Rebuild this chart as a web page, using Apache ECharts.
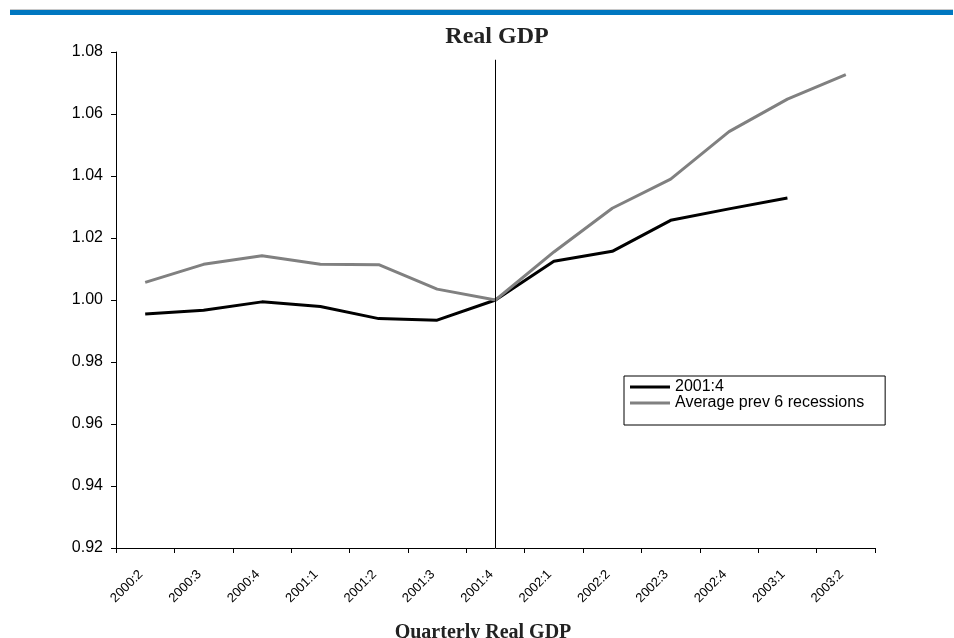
<!DOCTYPE html>
<html>
<head>
<meta charset="utf-8">
<script src="https://cdn.jsdelivr.net/npm/echarts@6/dist/echarts.min.js"></script>
<style>
html,body{margin:0;padding:0;background:#fff;}
#chart{width:954px;height:638px;}
</style>
</head>
<body>
<div id="chart"></div>
<script>
const categories = ['2000:2','2000:3','2000:4','2001:1','2001:2','2001:3','2001:4','2002:1','2002:2','2002:3','2002:4','2003:1','2003:2'];
const recession2001 = [0.9955,0.9967,0.9994,0.9979,0.9940,0.9935,1.0000,1.0125,1.0157,1.0257,1.0294,1.0329,null];
const avgPrev6 = [1.0057,1.0115,1.0143,1.0115,1.0114,1.0035,1.0000,1.0155,1.0296,1.0390,1.0543,1.0648,1.0727];
const seriesNames = ['2001:4','Average prev 6 recessions'];
const markerCategory = '2001:4';
const markerTop = 1.0775;
const yMin = 0.92, yMax = 1.08, yStep = 0.02;

const chart = echarts.init(document.getElementById('chart'));
const sans = 'Liberation Sans, Arial, sans-serif';
const serif = 'Liberation Serif, Times New Roman, serif';
chart.setOption({
  animation: false,
  backgroundColor: '#fff',
  grid: {left: 116, right: 79, top: 52, bottom: 90, containLabel: false, outerBoundsMode: 'none'},
  graphic: [
    {type: 'rect', shape: {x: 10, y: 9, width: 943, height: 1}, style: {fill: '#c8c8c8'}},
    {type: 'rect', shape: {x: 10, y: 10, width: 943, height: 5}, style: {fill: '#0077c0'}},
    {type: 'text', x: 497, y: 37, style: {text: 'Real GDP', font: 'bold 24px ' + serif, fill: '#222', textAlign: 'center', textVerticalAlign: 'middle'}},
    {type: 'text', x: 483, y: 633, style: {text: 'Quarterly Real GDP', font: 'bold 20px ' + serif, fill: '#222', textAlign: 'center', textVerticalAlign: 'middle'}}
  ],
  legend: {
    orient: 'vertical',
    left: 624, top: 376,
    padding: [3, 21, 14, 6],
    itemGap: 0,
    itemWidth: 40, itemHeight: 3,
    icon: 'rect',
    borderColor: '#000', borderWidth: 1,
    textStyle: {fontFamily: sans, fontSize: 16, color: '#000', lineHeight: 16},
    data: seriesNames
  },
  xAxis: {
    type: 'category',
    data: categories,
    boundaryGap: true,
    axisLine: {lineStyle: {color: '#000', width: 1}},
    axisTick: {show: true, length: 5, lineStyle: {color: '#000'}},
    axisLabel: {rotate: 45, interval: 0, fontFamily: sans, fontSize: 13, color: '#000', margin: 20, padding: [0, 6, 0, 0]},
    splitLine: {show: false}
  },
  yAxis: {
    type: 'value',
    min: yMin, max: yMax, interval: yStep,
    axisLine: {show: true, lineStyle: {color: '#000', width: 1}},
    axisTick: {show: true, length: 5, lineStyle: {color: '#000'}},
    axisLabel: {fontFamily: sans, fontSize: 16, color: '#000', margin: 13, formatter: v => v.toFixed(2)},
    splitLine: {show: false}
  },
  series: [
    {
      name: seriesNames[0], type: 'line', data: recession2001,
      symbol: 'none', lineStyle: {color: '#000', width: 3}, itemStyle: {color: '#000'},
      markLine: {
        silent: true, symbol: 'none', label: {show: false},
        lineStyle: {color: '#000', width: 1, type: 'solid'},
        data: [[{coord: [markerCategory, markerTop]}, {coord: [markerCategory, yMin]}]]
      }
    },
    {
      name: seriesNames[1], type: 'line', data: avgPrev6,
      symbol: 'none', lineStyle: {color: '#808080', width: 3}, itemStyle: {color: '#808080'}
    }
  ]
});
</script>
</body>
</html>
